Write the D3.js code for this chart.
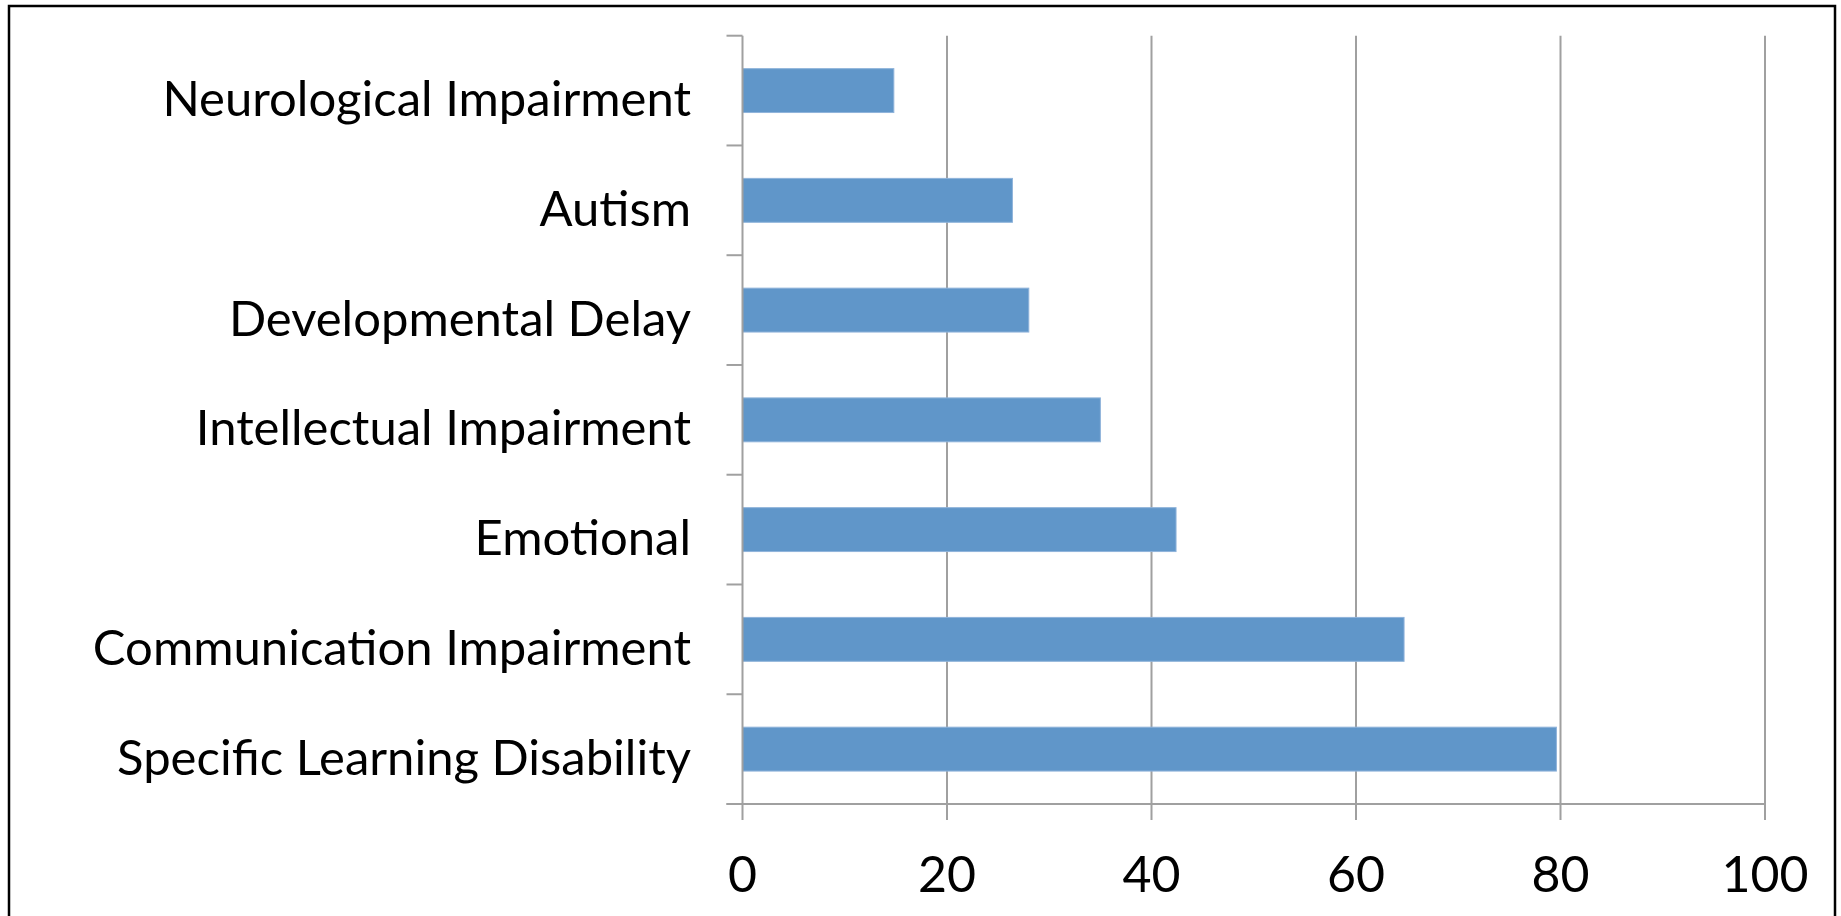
<!DOCTYPE html>
<meta charset="utf-8">
<style>
body { margin: 0; background: #fff; }
.chart text { font-family: Lato, "Open Sans", sans-serif; fill: #000; }
</style>
<svg class="chart"></svg>
<script src="https://d3js.org/d3.v7.min.js"></script>
<script>

var categories = ["Neurological Impairment", "Autism", "Developmental Delay",
  "Intellectual Impairment", "Emotional", "Communication Impairment",
  "Specific Learning Disability"];
var values = [14.8, 26.4, 28.0, 35.0, 42.4, 64.7, 79.6];
var xTicks = [0, 20, 40, 60, 80, 100];

var width = 1841, height = 916;
// note: "top" is window.top, so use other names
var plotLeft = 742.5, plotRight = 1765, plotTop = 35.7, plotBottom = 804;

var svg = d3.select(".chart")
    .attr("width", width)
    .attr("height", height);

// outer frame, bottom runs off the picture
svg.append("rect")
    .attr("x", 9).attr("y", 6)
    .attr("width", 1826).attr("height", 960)
    .attr("fill", "none")
    .attr("stroke", "#000")
    .attr("stroke-width", 2.5);

var x = d3.scaleLinear().domain([0, 100]).range([plotLeft, plotRight]);
var y = d3.scaleBand().domain(categories).range([plotTop, plotBottom]).paddingInner(0.6).paddingOuter(0.3);

var grey = "#a0a0a0";

// gridlines
svg.append("g").selectAll("line")
    .data(xTicks.slice(1))
  .enter().append("line")
    .attr("x1", x).attr("x2", x)
    .attr("y1", plotTop).attr("y2", plotBottom + 16)
    .attr("stroke", grey).attr("stroke-width", 2);

// bars
svg.append("g").selectAll("rect")
    .data(values)
  .enter().append("rect")
    .attr("x", x(0))
    .attr("y", function(d, i) { return y(categories[i]); })
    .attr("width", function(d) { return x(d) - x(0); })
    .attr("height", y.bandwidth())
    .attr("fill", "#6096c9")
    .attr("stroke", "#8fb3da")
    .attr("stroke-width", 1);

// y axis with ticks at band boundaries
var step = (plotBottom - plotTop) / categories.length;
var yAxis = svg.append("g");
yAxis.append("line")
    .attr("x1", plotLeft).attr("x2", plotLeft)
    .attr("y1", plotTop).attr("y2", plotBottom + 16)
    .attr("stroke", grey).attr("stroke-width", 2);
yAxis.selectAll("line.tick")
    .data(d3.range(categories.length + 1))
  .enter().append("line")
    .attr("class", "tick")
    .attr("x1", plotLeft - 16).attr("x2", plotLeft)
    .attr("y1", function(i) { return plotTop + i * step; })
    .attr("y2", function(i) { return plotTop + i * step; })
    .attr("stroke", grey).attr("stroke-width", 2);

yAxis.selectAll("text")
    .data(categories)
  .enter().append("text")
    .attr("x", 691)
    .attr("y", function(d) { return y(d) + y.bandwidth() / 2; })
    .attr("dy", "0.52em")
    .attr("text-anchor", "end")
    .style("font-size", "49px")
    .text(function(d) { return d; });

// x axis
var xAxis = svg.append("g");
xAxis.append("line")
    .attr("x1", plotLeft - 16).attr("x2", plotRight)
    .attr("y1", plotBottom).attr("y2", plotBottom)
    .attr("stroke", grey).attr("stroke-width", 2);
xAxis.selectAll("text")
    .data(xTicks)
  .enter().append("text")
    .attr("x", x)
    .attr("y", 892)
    .attr("text-anchor", "middle")
    .style("font-size", "50px")
    .text(function(d) { return d; });

</script>
